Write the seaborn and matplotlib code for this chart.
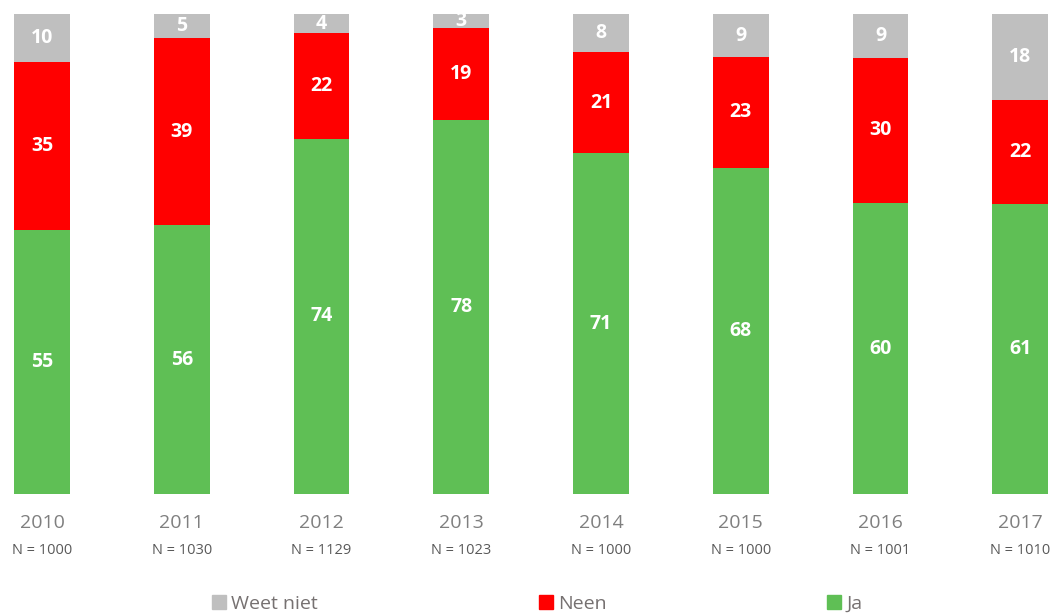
import matplotlib
matplotlib.use("Agg")
import matplotlib.pyplot as plt
import seaborn as sns
import numpy as np
import pandas as pd
from matplotlib.lines import Line2D

years = ["2010", "2011", "2012", "2013", "2014", "2015", "2016", "2017"]
n_labels = ["N = 1000", "N = 1030", "N = 1129", "N = 1023", "N = 1000", "N = 1000", "N = 1001", "N = 1010"]
ja = [55, 56, 74, 78, 71, 68, 60, 61]
neen = [35, 39, 22, 19, 21, 23, 30, 22]
weet_niet = [10, 5, 4, 3, 8, 9, 9, 18]

c_ja = "#5FBF55"
c_neen = "#FF0000"
c_wn = "#BFBFBF"

sns.set_theme(style="white")
plt.rcParams['font.family'] = ['Open Sans', 'DejaVu Sans']

ja_a = np.array(ja, float)
ne_a = np.array(neen, float)
wn_a = np.array(weet_niet, float)
tot = ja_a + ne_a + wn_a
ja_p = ja_a / tot * 100
ne_p = ne_a / tot * 100
wn_p = wn_a / tot * 100

df = pd.DataFrame({
    "year": years,
    "top_wn": ja_p + ne_p + wn_p,
    "top_ne": ja_p + ne_p,
    "top_ja": ja_p,
})

fig = plt.figure(figsize=(10.58, 6.14), dpi=100)
ax = fig.add_axes([0, 0, 1, 1])

w = 0.398
sns.barplot(data=df, x="year", y="top_wn", order=years, color=c_wn, width=w, ax=ax, saturation=1)
sns.barplot(data=df, x="year", y="top_ne", order=years, color=c_neen, width=w, ax=ax, saturation=1)
sns.barplot(data=df, x="year", y="top_ja", order=years, color=c_ja, width=w, ax=ax, saturation=1)

for p in ax.patches:
    p.set_edgecolor("none")

# pixel mapping
x0 = 42.0
dx = 139.75
ax.set_xlim(-x0 / dx, (1058 - x0) / dx)
ybot = 494.0
scale = (494.0 - 14.0) / 100.0
ax.set_ylim((ybot - 614) / scale, ybot / scale)

for i in range(len(years)):
    kw = dict(ha="center", va="center", color="white", fontsize=14, fontweight="bold")
    ax.text(i, ja_p[i] / 2, str(ja[i]), **kw)
    ax.text(i, ja_p[i] + ne_p[i] / 2, str(neen[i]), **kw)
    ax.text(i, ja_p[i] + ne_p[i] + wn_p[i] / 2, str(weet_niet[i]), **kw)
    ax.text(i, (ybot - 523) / scale, years[i], ha="center", va="center", color="#7F7F7F", fontsize=14)
    ax.text(i, (ybot - 550) / scale, n_labels[i], ha="center", va="center", color="#595959", fontsize=10.5)

ax.set_xticks([])
ax.set_yticks([])
ax.set_xlabel("")
ax.set_ylabel("")
for s in ax.spines.values():
    s.set_visible(False)

handles = [Line2D([0], [0], marker="s", linestyle="none", markersize=10, markerfacecolor=c, markeredgecolor=c)
           for c in (c_wn, c_neen, c_ja)]
leg = ax.legend(handles, ["Weet niet", "Neen", "Ja"], ncol=3, loc="center",
                bbox_to_anchor=(537 / 1058, 1 - 604 / 614), frameon=False,
                fontsize=14, columnspacing=11.3, handletextpad=0.25, handlelength=0.8,
                labelcolor="#767171")

fig.savefig("out.png", dpi=100)
